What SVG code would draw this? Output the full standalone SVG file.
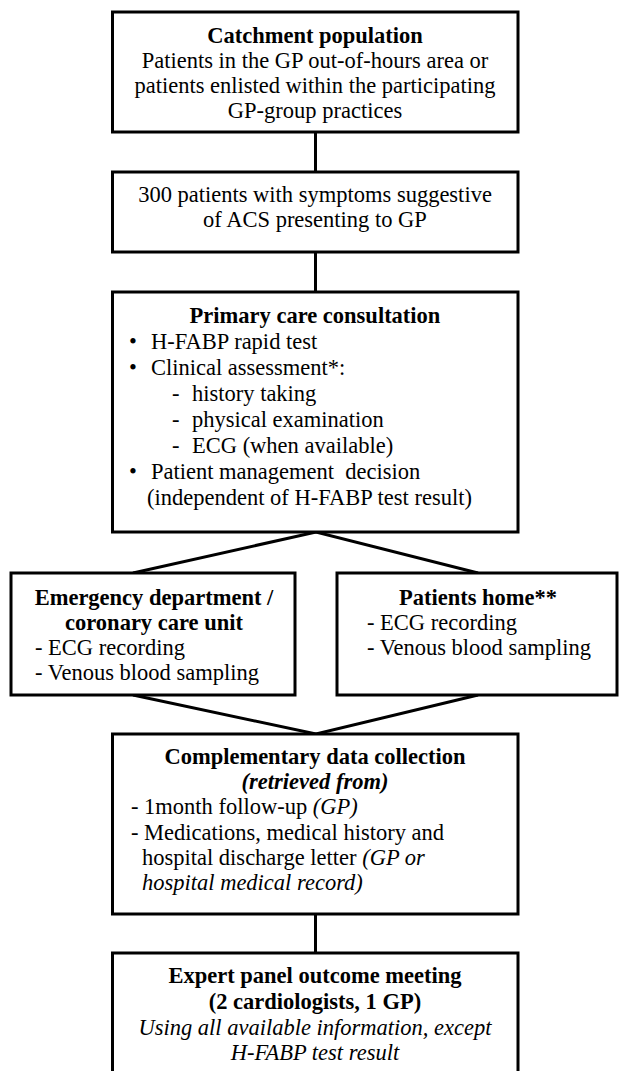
<svg xmlns="http://www.w3.org/2000/svg" width="620" height="1071" viewBox="0 0 620 1071">
<style>
.box{fill:#fff;stroke:#000;stroke-width:3}
.con{fill:none;stroke:#000;stroke-width:3}
text{font-family:"Liberation Serif","Times New Roman",serif;font-size:22.5px;fill:#000}
.c{text-anchor:middle}
.b{font-weight:bold}
.i{font-style:italic}
</style>
<rect width="620" height="1071" fill="#fff"/>
<g id="connectors">
<line class="con" x1="315.5" y1="132" x2="315.5" y2="172"/>
<line class="con" x1="315.5" y1="252" x2="315.5" y2="292"/>
<polyline class="con" points="133,573 316,532 478,573"/>
<polyline class="con" points="133,695 316,734 478,695"/>
<line class="con" x1="315.5" y1="914" x2="315.5" y2="953"/>
</g>
<g id="catchment">
<rect class="box" x="112.5" y="12" width="405.5" height="120"/>
<text class="c b" x="315" y="43">Catchment population</text>
<text class="c" x="315" y="68">Patients in the GP out-of-hours area or</text>
<text class="c" x="315" y="93">patients enlisted within the participating</text>
<text class="c" x="315" y="118">GP-group practices</text>
</g>
<g id="patients300">
<rect class="box" x="112.5" y="172" width="405.5" height="80"/>
<text class="c" x="315" y="202">300 patients with symptoms suggestive</text>
<text class="c" x="315" y="227">of ACS presenting to GP</text>
</g>
<g id="primary">
<rect class="box" x="112.5" y="292" width="405.5" height="240"/>
<text class="c b" x="315" y="323">Primary care consultation</text>
<text x="129" y="349">•</text><text x="151" y="349">H-FABP rapid test</text>
<text x="129" y="375">•</text><text x="151" y="375">Clinical assessment*:</text>
<text x="172" y="401">-</text><text x="192" y="401">history taking</text>
<text x="172" y="427">-</text><text x="192" y="427">physical examination</text>
<text x="172" y="453">-</text><text x="192" y="453">ECG (when available)</text>
<text x="129" y="479">•</text><text x="151" y="479" xml:space="preserve">Patient management  decision</text>
<text x="147" y="505">(independent of H-FABP test result)</text>
</g>
<g id="emergency">
<rect class="box" x="11" y="573" width="284" height="122"/>
<text class="c b" x="154" y="605">Emergency department /</text>
<text class="c b" x="154" y="630">coronary care unit</text>
<text x="35" y="655">- ECG recording</text>
<text x="35" y="680">- Venous blood sampling</text>
</g>
<g id="home">
<rect class="box" x="337" y="573" width="280" height="122"/>
<text class="c b" x="478" y="605">Patients home**</text>
<text x="367" y="630">- ECG recording</text>
<text x="367" y="655">- Venous blood sampling</text>
</g>
<g id="complementary">
<rect class="box" x="112.5" y="734" width="405.5" height="180"/>
<text class="c b" x="315" y="764">Complementary data collection</text>
<text class="c b i" x="315" y="789">(retrieved from)</text>
<text x="131" y="814">- 1month follow-up <tspan class="i">(GP)</tspan></text>
<text x="131" y="840">- Medications, medical history and</text>
<text x="142" y="865">hospital discharge letter <tspan class="i">(GP or</tspan></text>
<text class="i" x="142" y="890">hospital medical record)</text>
</g>
<g id="expert">
<rect class="box" x="112.5" y="953" width="405.5" height="125"/>
<text class="c b" x="315" y="983">Expert panel outcome meeting</text>
<text class="c b" x="315" y="1009">(2 cardiologists, 1 GP)</text>
<text class="c i" x="315" y="1035">Using all available information, except</text>
<text class="c i" x="315" y="1060">H-FABP test result</text>
</g>
</svg>
